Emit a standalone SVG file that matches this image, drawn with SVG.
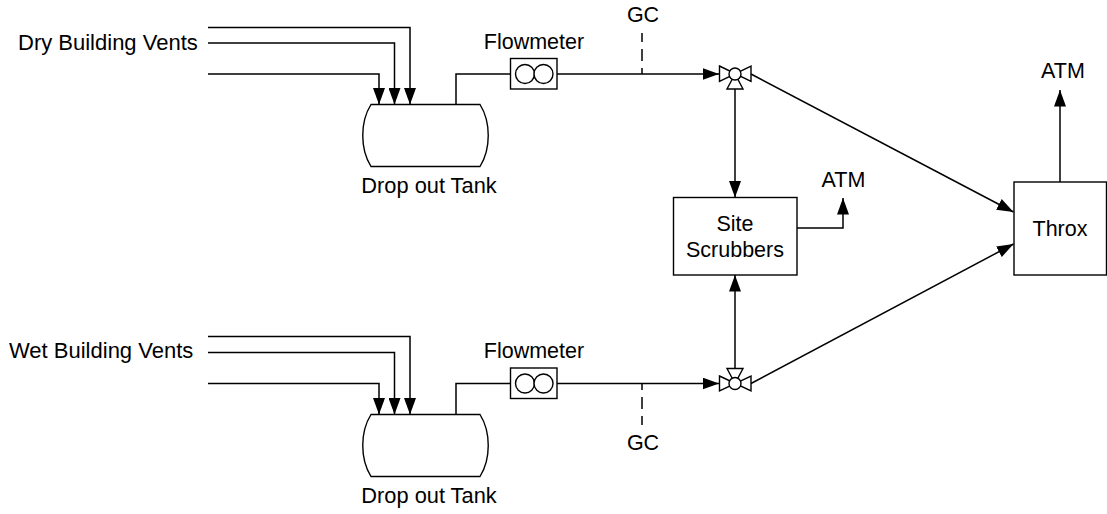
<svg xmlns="http://www.w3.org/2000/svg" width="1107" height="514" viewBox="0 0 1107 514">
<style>
text{font-family:"Liberation Sans",Arial,sans-serif;font-size:21.5px;fill:#000}
.m{text-anchor:middle}
.v{font-size:22px}
.t{font-size:21.8px}
.s{fill:#fff;stroke:#000;stroke-width:1.4}
.c{fill:none;stroke:#000;stroke-width:1.5}
.d{stroke-dasharray:9 7 12 7 9}
</style>
<defs>
<marker id="a" markerUnits="userSpaceOnUse" markerWidth="17" markerHeight="12" refX="16.5" refY="6" orient="auto"><path d="M0 0L16.5 6L0 12Z" fill="#000"/></marker>
<g id="tank"><path class="s" d="M371 104.500H480C491 122 491 149 480 166.500H371C360 149 360 122 371 104.500Z"/></g>
<g id="fm"><rect class="s" x="510.500" y="58.500" width="46.500" height="30.500"/><circle class="s" cx="525" cy="74" r="9.500"/><circle class="s" cx="543.500" cy="74" r="9.500"/></g>
</defs>
<g id="connectors">
<path class="c" marker-end="url(#a)" d="M208 27.500H410V104.500"/>
<path class="c" marker-end="url(#a)" d="M208 43H394.500V104.500"/>
<path class="c" marker-end="url(#a)" d="M208 74H379V104.500"/>
<path class="c" d="M456 104.500V74H510.500"/>
<path class="c" marker-end="url(#a)" d="M557 74H719"/>
<path class="c d" d="M642 33V74"/>
<path class="c" marker-end="url(#a)" d="M735 89V197.500"/>
<path class="c" marker-end="url(#a)" d="M751 74L1013.500 212"/>
<path class="c" marker-end="url(#a)" d="M797 228H843V198"/>
<path class="c" marker-end="url(#a)" d="M208 336.500H410V414.500"/>
<path class="c" marker-end="url(#a)" d="M208 352.500H394.500V414.500"/>
<path class="c" marker-end="url(#a)" d="M208 383.500H379V414.500"/>
<path class="c" d="M456 414.500V383.500H510.500"/>
<path class="c" marker-end="url(#a)" d="M557 383.500H719"/>
<path class="c d" d="M642 425V383.500"/>
<path class="c" marker-end="url(#a)" d="M735 368V275"/>
<path class="c" marker-end="url(#a)" d="M751 383.500L1013.500 244"/>
<path class="c" marker-end="url(#a)" d="M1060 182V90"/>
</g>
<g id="tank-dry"><use href="#tank"/><text class="m t" x="429" y="192.500">Drop out Tank</text></g>
<g id="flowmeter-dry"><use href="#fm"/><text class="m" x="534" y="49">Flowmeter</text></g>
<g id="valve-dry"><path class="s" d="M719.500 66L751 81.500V66L719.500 81.500Z"/><path class="s" d="M735 74L727 89H743Z"/><circle class="s" cx="735" cy="74" r="6"/></g>
<g id="tank-wet"><use href="#tank" y="310"/><text class="m t" x="429" y="502.500">Drop out Tank</text></g>
<g id="flowmeter-wet"><use href="#fm" y="309.500"/><text class="m" x="534" y="358">Flowmeter</text></g>
<g id="valve-wet"><path class="s" d="M719.500 376L751 391V376L719.500 391Z"/><path class="s" d="M735 383.500L727 368.500H743Z"/><circle class="s" cx="735" cy="383.500" r="6"/></g>
<g id="scrubbers"><rect class="s" x="673.500" y="197.500" width="123.500" height="77.500"/><text class="m" x="735" y="230.500">Site</text><text class="m" x="735" y="256.500">Scrubbers</text></g>
<g id="throx"><rect class="s" x="1014" y="182" width="92.500" height="93"/><text class="m" x="1060" y="235.500">Throx</text></g>
<g id="labels">
<text class="v" x="18" y="50">Dry Building Vents</text>
<text class="v" x="9" y="358">Wet Building Vents</text>
<text class="m" x="643" y="22">GC</text>
<text class="m" x="643" y="450">GC</text>
<text class="m" x="843.500" y="186.500">ATM</text>
<text class="m" x="1063" y="78">ATM</text>
</g>
</svg>
